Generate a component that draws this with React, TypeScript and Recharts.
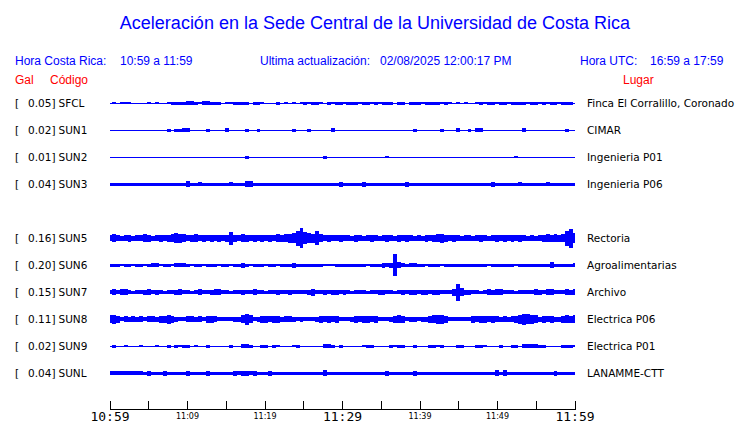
import React from "react";
import { ComposedChart, Area, XAxis, YAxis } from "recharts";

const TITLE = "Aceleración en la Sede Central de la Universidad de Costa Rica";
const STATIONS = ["SFCL", "SUN1", "SUN2", "SUN3", "SUN5", "SUN6", "SUN7", "SUN8", "SUN9", "SUNL"];
const GAL = ["0.05", "0.02", "0.01", "0.04", "0.16", "0.20", "0.15", "0.11", "0.02", "0.04"];
const PLACES = [
  "Finca El Corralillo, Coronado",
  "CIMAR",
  "Ingenieria P01",
  "Ingenieria P06",
  "Rectoria",
  "Agroalimentarias",
  "Archivo",
  "Electrica P06",
  "Electrica P01",
  "LANAMME-CTT",
];
// row slot of each trace (slot 4 is left empty)
const ROWS = [0, 1, 2, 3, 5, 6, 7, 8, 9, 10];
const TICKS = [0, 5, 10, 15, 20, 25, 30, 35, 40, 45, 50, 55, 60];
const TICK_LABELS = ["10:59", "", "11:09", "", "11:19", "", "11:29", "", "11:39", "", "11:49", "", "11:59"];
const BIG_TICKS = ["10:59", "11:29", "11:59"];

// half-height of each trace (px), 120 samples over the hour
const AMP_SFCL = [
  0.5, 1, 0.5, 1, 1, 1, 0.5, 0.5, 0.5, 0.5,
  1, 0.5, 1, 0.5, 0.5, 1, 1.5, 1.5, 1.5, 1.5,
  2, 2, 1.5, 1, 2, 2, 1.5, 1.5, 1.5, 0.5,
  1, 1, 1.5, 1.5, 1.5, 1.5, 0.5, 1.5, 1.5, 1,
  0.5, 0.5, 0.5, 1.5, 0.5, 1, 0.5, 1, 0.5, 1,
  1.5, 1, 1.5, 1.5, 1, 0.5, 1.5, 1, 1.5, 1.5,
  1, 1.5, 1.5, 1.5, 1, 1.5, 1.5, 1, 1.5, 1,
  1.5, 1.5, 1.5, 0.5, 1.5, 1.5, 0.5, 1.5, 1.5, 1.5,
  1, 1.5, 1.5, 1.5, 1.5, 1, 1.5, 1, 0.5, 1,
  0.5, 1, 0.5, 0.5, 1, 1.5, 1, 1.5, 1.5, 1,
  1.5, 1.5, 1, 1.5, 1.5, 1.5, 1.5, 1, 1.5, 1.5,
  1, 1.5, 1, 1.5, 1.5, 1, 1.5, 1.5, 1.5, 0.5,
];
const AMP_SUN1 = [
  0.5, 0.5, 0.5, 0.5, 0.5, 0.5, 0.5, 0.5, 0.5, 0.5,
  0.5, 0.5, 0.5, 0.5, 0.5, 1.5, 0.5, 1.5, 1.5, 2,
  2, 0.5, 0.5, 0.5, 0.5, 1.5, 0.5, 0.5, 0.5, 0.5,
  2, 0.5, 0.5, 0.5, 0.5, 1.5, 0.5, 0.5, 1.5, 0.5,
  0.5, 0.5, 0.5, 0.5, 0.5, 0.5, 0.5, 1.5, 0.5, 0.5,
  0.5, 1.5, 0.5, 0.5, 0.5, 0.5, 0.5, 2, 0.5, 0.5,
  0.5, 0.5, 0.5, 0.5, 0.5, 0.5, 0.5, 0.5, 0.5, 0.5,
  0.5, 0.5, 0.5, 0.5, 0.5, 0.5, 0.5, 0.5, 1.5, 0.5,
  0.5, 0.5, 0.5, 0.5, 0.5, 1.5, 0.5, 0.5, 0.5, 2,
  0.5, 0.5, 1.5, 0.5, 2, 2, 0.5, 0.5, 0.5, 0.5,
  0.5, 0.5, 0.5, 0.5, 0.5, 0.5, 2, 0.5, 0.5, 0.5,
  0.5, 0.5, 0.5, 0.5, 0.5, 0.5, 0.5, 1.5, 0.5, 0.5,
];
const AMP_SUN2 = [
  0.5, 0.5, 0.5, 0.5, 0.5, 0.5, 0.5, 0.5, 0.5, 0.5,
  0.5, 0.5, 0.5, 0.5, 0.5, 0.5, 0.5, 0.5, 0.5, 0.5,
  0.5, 0.5, 0.5, 0.5, 0.5, 0.5, 0.5, 0.5, 0.5, 0.5,
  0.5, 0.5, 0.5, 0.5, 0.5, 1.5, 0.5, 0.5, 0.5, 0.5,
  0.5, 0.5, 0.5, 0.5, 0.5, 0.5, 0.5, 0.5, 0.5, 0.5,
  0.5, 0.5, 0.5, 0.5, 0.5, 1.5, 0.5, 0.5, 0.5, 0.5,
  0.5, 0.5, 0.5, 0.5, 0.5, 0.5, 0.5, 0.5, 0.5, 0.5,
  0.5, 1, 0.5, 0.5, 0.5, 0.5, 0.5, 0.5, 0.5, 0.5,
  0.5, 0.5, 0.5, 0.5, 0.5, 0.5, 0.5, 0.5, 0.5, 0.5,
  0.5, 0.5, 0.5, 0.5, 0.5, 0.5, 0.5, 0.5, 0.5, 0.5,
  0.5, 0.5, 0.5, 0.5, 1, 0.5, 0.5, 0.5, 0.5, 0.5,
  0.5, 0.5, 0.5, 0.5, 0.5, 0.5, 0.5, 0.5, 0.5, 0.5,
];
const AMP_SUN3 = [
  1.5, 1.5, 1.5, 1.5, 1.5, 1.5, 1.5, 1.5, 1.5, 1.5,
  1.5, 1.5, 1.5, 1.5, 1.5, 1.5, 1.5, 1.5, 1.5, 1.5,
  3, 1.5, 1.5, 2, 1.5, 1.5, 1.5, 1.5, 1.5, 1.5,
  1.5, 2, 1.5, 1.5, 1.5, 3, 3, 1.5, 1.5, 1.5,
  1.5, 1.5, 1.5, 1.5, 1.5, 1.5, 1.5, 1.5, 1.5, 1.5,
  1.5, 1.5, 1.5, 1.5, 1.5, 1.5, 1.5, 1.5, 1.5, 2.5,
  1.5, 1.5, 1.5, 1.5, 1.5, 2.5, 1.5, 1.5, 1.5, 1.5,
  1.5, 1.5, 1.5, 1.5, 1.5, 1.5, 2.5, 1.5, 1.5, 1.5,
  1.5, 1.5, 1.5, 1.5, 1.5, 1.5, 1.5, 1.5, 1.5, 1.5,
  1.5, 1.5, 1.5, 1.5, 1.5, 1.5, 1.5, 1.5, 2.5, 1.5,
  1.5, 1.5, 1.5, 1.5, 1.5, 2, 1.5, 1.5, 1.5, 1.5,
  1.5, 1.5, 2, 1.5, 1.5, 1.5, 1.5, 1.5, 1.5, 1.5,
];
const AMP_SUN5 = [
  3, 4, 3, 2.5, 3, 3.5, 2.5, 3, 3, 4,
  3.5, 2.5, 3, 3.5, 3, 3.5, 4, 5, 4.5, 4,
  3, 3.5, 4, 3, 3.5, 3, 3.5, 3, 3.5, 3,
  3.5, 6.5, 3.5, 3, 4, 3.5, 3, 3.5, 3, 3.5,
  3, 3.5, 3, 4, 3.5, 4, 4.5, 5, 7.5, 10,
  6, 5, 4.5, 7, 4, 3, 3.5, 3, 3, 3.5,
  3, 3, 2.5, 3.5, 3, 2.5, 3, 3.5, 3, 2.5,
  3, 3.5, 3, 2.5, 3.5, 3, 3.5, 3, 2.5, 3,
  2.5, 3.5, 3, 3.5, 4, 4.5, 3.5, 3, 3.5, 3,
  2.5, 3, 3, 2.5, 3, 3.5, 3, 2.5, 3, 3.5,
  3, 3.5, 3, 3.5, 3, 3.5, 3, 2.5, 3, 2.5,
  3, 3.5, 4, 3.5, 4, 3.5, 4, 7.5, 9.5, 5,
];
const AMP_SUN6 = [
  1.5, 1.5, 1.5, 1, 1.5, 1.5, 1, 1.5, 1.5, 1,
  1.5, 2, 2, 1, 1.5, 1.5, 1, 2, 2, 2,
  1.5, 1, 1.5, 1.5, 1, 1.5, 1.5, 1.5, 1, 1.5,
  1.5, 1, 1.5, 1.5, 2.5, 1.5, 1, 1.5, 1.5, 1.5,
  1, 1.5, 1.5, 1, 1.5, 1.5, 1.5, 2.5, 1.5, 1.5,
  1.5, 1.5, 1.5, 1.5, 1.5, 1, 1, 1, 1.5, 1.5,
  1.5, 1.5, 1.5, 1.5, 1.5, 1.5, 1, 1.5, 1.5, 1.5,
  2.5, 2, 2.5, 11, 3, 2, 1.5, 2, 2, 1.5,
  1.5, 1, 1.5, 1.5, 1.5, 1, 1.5, 1.5, 1.5, 1.5,
  1.5, 1.5, 1.5, 1.5, 1.5, 1.5, 1.5, 1, 1.5, 1.5,
  1.5, 1.5, 1.5, 1.5, 1, 1.5, 1.5, 1.5, 1.5, 1.5,
  1.5, 1.5, 1.5, 3, 1.5, 1.5, 1.5, 1.5, 1.5, 2,
];
const AMP_SUN7 = [
  2, 3, 2, 3, 3, 2, 1.5, 2, 2, 2.5,
  3, 2, 2.5, 2, 1.5, 2, 2, 2.5, 3, 2,
  2, 1.5, 2, 3, 2, 2, 2.5, 3, 3, 2,
  2, 1.5, 2, 2, 2.5, 2, 2, 3, 2, 2,
  1.5, 2, 2, 2.5, 2, 2, 2.5, 2, 2, 2,
  2, 2.5, 3.5, 2, 2, 2.5, 2, 2.5, 2.5, 2,
  2.5, 2, 1.5, 2, 2, 2, 1.5, 2, 2, 2.5,
  2.5, 2, 2, 1.5, 2, 2.5, 2, 2.5, 2.5, 2,
  2.5, 2.5, 2, 2.5, 2.5, 2, 2, 2, 3.5, 8.5,
  4, 2.5, 2.5, 2, 2, 1.5, 2, 3, 2.5, 3,
  3, 2, 2, 2, 1.5, 2, 2, 2, 2, 3,
  2.5, 2, 3, 3, 2, 2, 2, 3, 2.5, 3,
];
const AMP_SUN8 = [
  4, 4.5, 3.5, 2, 3, 2.5, 3, 2.5, 3, 2,
  3, 3, 2.5, 3.5, 3.5, 4.5, 3.5, 2.5, 2, 2,
  3, 3, 2.5, 3, 2, 3.5, 3.5, 3, 2, 2,
  2, 2, 2.5, 2.5, 4, 5.5, 4, 2, 2.5, 3.5,
  3.5, 3, 3.5, 3.5, 2.5, 3, 3, 2.5, 2, 2.5,
  2, 2, 2, 2.5, 3.5, 3, 3.5, 3, 3.5, 2,
  2, 2, 2.5, 3.5, 3, 3.5, 3.5, 3, 3.5, 2,
  2, 2, 2.5, 3.5, 4, 3.5, 2, 2.5, 2.5, 2,
  2.5, 2.5, 3.5, 4, 4.5, 4.5, 3.5, 2, 2, 2,
  2, 2, 2, 3.5, 3, 3.5, 3.5, 3, 3.5, 3,
  2.5, 3, 2.5, 3, 3.5, 4.5, 5.5, 5, 4.5, 4,
  2.5, 3.5, 3, 3.5, 2.5, 2.5, 3.5, 4, 3.5, 4,
];
const AMP_SUN9 = [
  0.5, 1.5, 0.5, 0.5, 1, 0.5, 0.5, 0.5, 1, 0.5,
  0.5, 0.5, 1, 0.5, 0.5, 1.5, 0.5, 1.5, 1, 1.5,
  1.5, 0.5, 1, 0.5, 0.5, 1.5, 0.5, 0.5, 0.5, 0.5,
  0.5, 1.5, 0.5, 0.5, 2, 2, 1.5, 0.5, 0.5, 1.5,
  1.5, 0.5, 1.5, 1, 0.5, 0.5, 0.5, 1, 1.5, 0.5,
  0.5, 0.5, 0.5, 0.5, 0.5, 2, 2, 1.5, 0.5, 1.5,
  0.5, 0.5, 0.5, 0.5, 0.5, 1, 1.5, 1.5, 0.5, 0.5,
  0.5, 0.5, 1.5, 1, 1.5, 1.5, 0.5, 0.5, 1.5, 0.5,
  0.5, 0.5, 1.5, 1.5, 1, 1.5, 0.5, 0.5, 0.5, 1.5,
  1.5, 0.5, 0.5, 0.5, 1.5, 1.5, 1, 0.5, 0.5, 0.5,
  1.5, 0.5, 0.5, 1.5, 1.5, 0.5, 2, 2, 2, 2,
  1.5, 1.5, 0.5, 0.5, 0.5, 0.5, 1.5, 1.5, 1.5, 1,
];
const AMP_SUNL = [
  2, 2, 2, 2, 2, 2, 2, 2, 2, 1.8,
  2.5, 1.8, 1.8, 1.8, 2.5, 1.8, 1.8, 1.8, 1.8, 1.8,
  2.5, 1.8, 1.8, 1.8, 1.8, 2.5, 1.8, 1.8, 1.8, 1.8,
  1.8, 1.8, 2.5, 2, 2.5, 2.5, 2, 2.5, 1.8, 1.8,
  1.8, 2.5, 1.8, 1.8, 1.8, 1.8, 1.8, 1.8, 1.8, 1.8,
  1.8, 1.8, 1.8, 1.8, 1.8, 3, 1.8, 1.8, 1.8, 1.8,
  1.8, 1.8, 1.8, 1.8, 1.8, 1.8, 1.8, 1.8, 1.8, 1.8,
  1.8, 2.5, 1.8, 1.8, 1.8, 1.8, 1.8, 1.8, 2.2, 1.8,
  1.8, 1.8, 1.8, 1.8, 1.8, 1.8, 1.8, 1.8, 1.8, 1.8,
  1.8, 1.8, 1.8, 1.8, 1.8, 1.8, 1.8, 1.8, 1.8, 3,
  1.8, 3, 1.8, 1.8, 1.8, 1.8, 1.8, 1.8, 1.8, 1.8,
  1.8, 1.8, 1.8, 1.8, 2.2, 1.8, 1.8, 1.8, 1.8, 1.8,
];

const AMPS = [AMP_SFCL, AMP_SUN1, AMP_SUN2, AMP_SUN3, AMP_SUN5, AMP_SUN6, AMP_SUN7, AMP_SUN8, AMP_SUN9, AMP_SUNL];

const BLUE = "#0000ff";
const RED = "#ff0000";
const PX_PER_ROW = 27;
const N = AMP_SFCL.length;

const data = Array.from({ length: N }, (_, i) => {
  const row: Record<string, any> = { t: (i * 60) / (N - 1) };
  AMPS.forEach((a, k) => {
    const h = a[i] / PX_PER_ROW;
    row[STATIONS[k]] = [ROWS[k] - h, ROWS[k] + h];
  });
  return row;
});

const TimeTick = (props: any) => {
  const { x, y, payload } = props;
  const label = TICK_LABELS[TICKS.indexOf(payload.value)];
  const big = BIG_TICKS.includes(label);
  return (
    <g>
      <line x1={x} x2={x} y1={y - 9} y2={y} stroke="#000" />
      {label && (
        <text
          x={x}
          y={big ? y + 11.5 : y + 9.5}
          textAnchor="middle"
          fontSize={big ? 13 : 8}
          fontFamily={big ? "DejaVu Sans Mono" : "DejaVu Sans"}
          fill="#000"
        >
          {label}
        </text>
      )}
    </g>
  );
};

const StationTick = (props: any) => {
  const { y, payload } = props;
  const k = ROWS.indexOf(payload.value);
  if (k < 0) return null;
  return (
    <g fontFamily="DejaVu Sans" fontSize={10.5} fill="#000">
      <text x={15} y={y + 4}>[</text>
      <text x={55.5} y={y + 4} textAnchor="end">{GAL[k]}]</text>
      <text x={58.5} y={y + 4}>{STATIONS[k]}</text>
    </g>
  );
};

const PlaceTick = (props: any) => {
  const { y, payload } = props;
  const k = ROWS.indexOf(payload.value);
  if (k < 0) return null;
  return (
    <text x={587} y={y + 4} fontFamily="DejaVu Sans" fontSize={10.5} fill="#000">
      {PLACES[k]}
    </text>
  );
};

export default function App() {
  return (
    <div style={{ position: "absolute", left: 0, top: 0, width: 740, height: 423, background: "#fff" }}>
      <div style={{ shapeRendering: "crispEdges" }}>
        <ComposedChart width={740} height={423} data={data} margin={{ top: 76.3, right: 0, bottom: 0, left: 0 }}>
          <XAxis
            dataKey="t"
            type="number"
            domain={[0, 60]}
            ticks={TICKS}
            interval={0}
            height={13.5}
            tickSize={0}
            tickMargin={0}
            tickLine={false}
            axisLine={{ stroke: "#000" }}
            tick={<TimeTick />}
            allowDataOverflow
          />
          <YAxis
            yAxisId="l"
            type="number"
            domain={[-1, 11.34]}
            reversed
            width={110}
            ticks={ROWS}
            interval={0}
            axisLine={false}
            tickLine={false}
            tick={<StationTick />}
            allowDataOverflow
          />
          <YAxis
            yAxisId="r"
            orientation="right"
            type="number"
            domain={[-1, 11.34]}
            reversed
            width={165}
            ticks={ROWS}
            interval={0}
            axisLine={false}
            tickLine={false}
            tick={<PlaceTick />}
            allowDataOverflow
          />
          {STATIONS.map((s) => (
            <Area
              key={s}
              yAxisId="l"
              dataKey={s}
              type="step"
              stroke="none"
              fill={BLUE}
              fillOpacity={1}
              dot={false}
              activeDot={false}
              isAnimationActive={false}
            />
          ))}
        </ComposedChart>
      </div>
      <svg width={740} height={423} style={{ position: "absolute", left: 0, top: 0, pointerEvents: "none" }}>
        <text x={375} y={29} textAnchor="middle" fontSize={18} fill={BLUE} fontFamily="Liberation Sans">
          {TITLE}
        </text>
        <g fontFamily="Liberation Sans" fontSize={12} fill={BLUE}>
          <text x={15} y={65}>Hora Costa Rica:</text>
          <text x={120} y={65}>10:59 a 11:59</text>
          <text x={260} y={65}>Ultima actualización:</text>
          <text x={380} y={65}>02/08/2025 12:00:17 PM</text>
          <text x={580} y={65}>Hora UTC:</text>
          <text x={650} y={65}>16:59 a 17:59</text>
        </g>
        <g fontFamily="Liberation Sans" fontSize={12} fill={RED}>
          <text x={15} y={84}>Gal</text>
          <text x={50} y={84}>Código</text>
          <text x={623} y={84}>Lugar</text>
        </g>
      </svg>
    </div>
  );
}
